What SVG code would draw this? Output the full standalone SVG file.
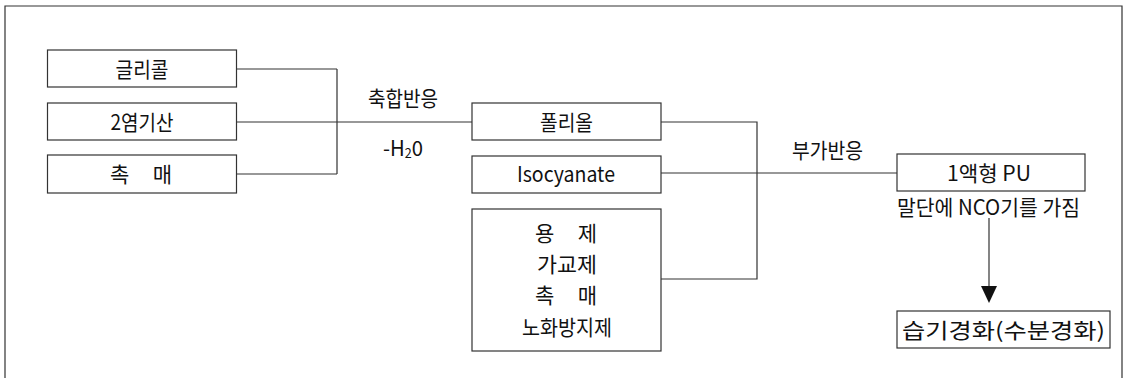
<svg xmlns="http://www.w3.org/2000/svg" width="1131" height="378" viewBox="0 0 1131 378">
<style>
.box{fill:#fff;stroke:#333;stroke-width:1.2}
.ln{fill:none;stroke:#333;stroke-width:1.2}
.t{font-family:"Noto Sans CJK KR","Liberation Sans",sans-serif;font-size:21px;fill:#111;text-anchor:middle}
</style>
<rect width="1131" height="378" fill="#fff"/>
<path class="ln" d="M5,378 V6 H1122 V378" stroke-width="1.5"/>
<g id="connectors">
<path class="ln" d="M237,69 H337 M237,122 H472 M237,174 H337 M337,69 V174"/>
<path class="ln" d="M661,122 H757 V279 H661 M661,173 H897"/>
<line class="ln" x1="989" y1="218" x2="989" y2="290"/>
<path d="M981,286 L997,286 L989,303 Z" fill="#111"/>
</g>
<g id="n-glycol"><rect class="box" x="47.5" y="50" width="189" height="37"/><text class="t" x="142" y="76.5" textLength="53" lengthAdjust="spacingAndGlyphs">글리콜</text></g>
<g id="n-acid"><rect class="box" x="47.5" y="103" width="189" height="37"/><text class="t" x="142" y="129.5" textLength="63" lengthAdjust="spacingAndGlyphs">2염기산</text></g>
<g id="n-cat1"><rect class="box" x="47.5" y="155" width="189" height="38"/><text class="t" x="141" y="181.5" textLength="62" lengthAdjust="spacing" xml:space="preserve">촉  매</text></g>
<g id="l-cond"><text class="t" x="403" y="106" textLength="70" lengthAdjust="spacingAndGlyphs">축합반응</text><text class="t" x="403" y="155.5" textLength="40" lengthAdjust="spacingAndGlyphs">-H<tspan font-size="13" dy="2">2</tspan><tspan dy="-2">0</tspan></text></g>
<g id="n-polyol"><rect class="box" x="472" y="103" width="189" height="37"/><text class="t" x="566.5" y="129.5" textLength="53" lengthAdjust="spacingAndGlyphs">폴리올</text></g>
<g id="n-iso"><rect class="box" x="472" y="156" width="189" height="37"/><text class="t" x="566" y="181.5" textLength="98" lengthAdjust="spacingAndGlyphs">Isocyanate</text></g>
<g id="n-add"><rect class="box" x="472" y="209" width="189" height="142"/>
<text class="t" x="566" y="241" textLength="62" lengthAdjust="spacing" xml:space="preserve">용  제</text>
<text class="t" x="567" y="271.5" textLength="60" lengthAdjust="spacingAndGlyphs">가교제</text>
<text class="t" x="566" y="303" textLength="62" lengthAdjust="spacing" xml:space="preserve">촉  매</text>
<text class="t" x="567" y="334.5" textLength="90" lengthAdjust="spacingAndGlyphs">노화방지제</text></g>
<g id="l-addrx"><text class="t" x="827.5" y="157.5" textLength="71" lengthAdjust="spacingAndGlyphs">부가반응</text></g>
<g id="n-pu"><rect class="box" x="897" y="154" width="188" height="37"/><text class="t" x="989" y="180.5" textLength="84" lengthAdjust="spacingAndGlyphs">1액형 PU</text></g>
<g id="l-nco"><text class="t" x="988.5" y="215" textLength="183" lengthAdjust="spacingAndGlyphs">말단에 NCO기를 가짐</text></g>
<g id="n-cure"><rect class="box" x="897" y="311" width="213" height="37"/><text class="t" x="1003.5" y="337.5" textLength="203" lengthAdjust="spacingAndGlyphs">습기경화(수분경화)</text></g>
</svg>
